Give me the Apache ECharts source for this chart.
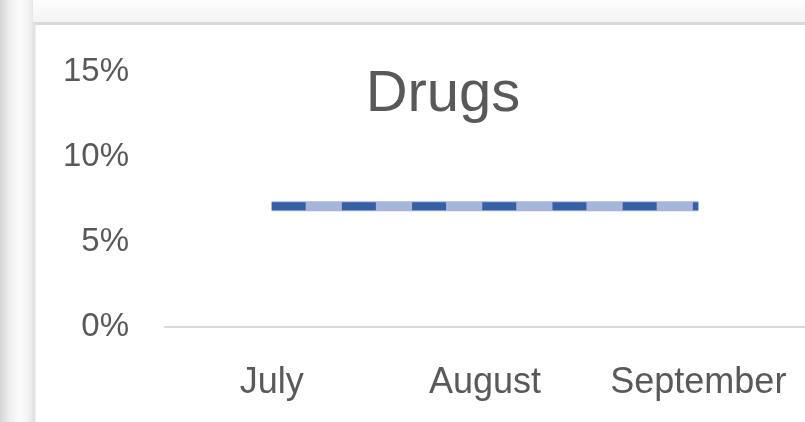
<!DOCTYPE html>
<html>
<head>
<meta charset="utf-8">
<script src="https://cdn.jsdelivr.net/npm/echarts@6/dist/echarts.min.js"></script>
<style>
html,body{margin:0;padding:0;background:#fff;}
#chart{width:805px;height:422px;}
</style>
</head>
<body>
<div id="chart"></div>
<script>
const titleText = 'Drugs';
const categories = ['July', 'August', 'September'];
const drugsValues = [0.071, 0.071, 0.071];
const yTicks = [0, 0.05, 0.10, 0.15];

const FONT = '"Liberation Sans", Arial, sans-serif';
const chart = echarts.init(document.getElementById('chart'), null, {renderer: 'canvas'});
chart.setOption({
  animation: false,
  backgroundColor: '#ffffff',
  graphic: [
    {type: 'rect', z: -10, shape: {x: 0, y: 0, width: 805, height: 23}, style: {fill: new echarts.graphic.LinearGradient(0, 0, 0, 1, [{offset: 0, color: '#fdfdfd'}, {offset: 1, color: '#f3f3f3'}])}},
    {type: 'rect', z: -10, shape: {x: 0, y: 0, width: 33, height: 422}, style: {fill: new echarts.graphic.LinearGradient(0, 0, 1, 0, [{offset: 0, color: '#d6d6d6'}, {offset: 0.3, color: '#efefef'}, {offset: 0.6, color: '#fbfbfb'}, {offset: 0.85, color: '#f4f4f4'}, {offset: 1, color: '#e6e6e6'}])}},
    {type: 'line', z: -5, shape: {x1: 33, y1: 23.5, x2: 805, y2: 23.5}, style: {stroke: '#d9d9d9', lineWidth: 3}},
    {type: 'line', z: -5, shape: {x1: 34, y1: 23, x2: 34, y2: 422}, style: {stroke: '#e3e3e3', lineWidth: 3}}
  ],
  title: {
    text: titleText,
    left: 438,
    top: 61,
    textAlign: 'center',
    textStyle: {fontFamily: FONT, fontSize: 58, fontWeight: 'normal', color: '#595959'}
  },
  grid: {left: 165, right: -2, top: 72, bottom: 95, containLabel: false},
  xAxis: {
    type: 'category',
    data: categories,
    boundaryGap: true,
    axisLine: {show: true, lineStyle: {color: '#d9d9d9', width: 2}},
    axisTick: {show: false},
    axisLabel: {fontFamily: FONT, fontSize: 36, color: '#595959', margin: 38, interval: 0, hideOverlap: false}
  },
  yAxis: {
    type: 'value',
    min: 0, max: 0.15, interval: 0.05,
    axisLine: {show: false},
    axisTick: {show: false},
    splitLine: {show: false},
    axisLabel: {
      fontFamily: FONT, fontSize: 33, color: '#595959', margin: 36,
      formatter: v => yTicks.indexOf(Math.round(v * 100) / 100) >= 0 ? Math.round(v * 100) + '%' : ''
    }
  },
  series: [
    {type: 'line', data: drugsValues, symbol: 'none', silent: true,
     lineStyle: {color: '#a8b5da', width: 10, cap: 'butt'}},
    {type: 'line', data: drugsValues, symbol: 'none', silent: true,
     lineStyle: {color: '#3660a5', width: 8, type: [34, 36.2], cap: 'butt'}}
  ]
});
</script>
</body>
</html>
